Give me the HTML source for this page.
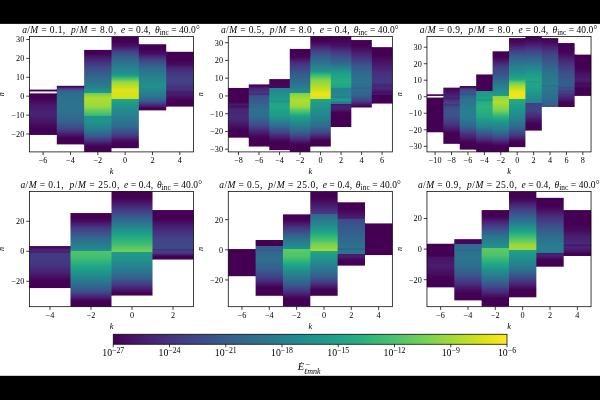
<!DOCTYPE html>
<html><head><meta charset="utf-8"><title>Flux modes</title>
<style>html,body{margin:0;padding:0;background:#000;overflow:hidden}svg{display:block}</style>
</head><body>
<svg width="600" height="400" viewBox="0 0 600 400">
<defs>
<linearGradient id="g1" gradientUnits="userSpaceOnUse" x1="0" y1="93.37" x2="0" y2="134.94"><stop offset="0%" stop-color="#440154"/><stop offset="11.36%" stop-color="#440154"/><stop offset="21.14%" stop-color="#470d60"/><stop offset="30.91%" stop-color="#481a6c"/><stop offset="50%" stop-color="#482475"/><stop offset="69.09%" stop-color="#471365"/><stop offset="84.09%" stop-color="#440154"/><stop offset="100%" stop-color="#440154"/></linearGradient>
<linearGradient id="g2" gradientUnits="userSpaceOnUse" x1="0" y1="85.81" x2="0" y2="144.4"><stop offset="0%" stop-color="#440154"/><stop offset="2.26%" stop-color="#460b5e"/><stop offset="2.9%" stop-color="#481a6c"/><stop offset="3.55%" stop-color="#482878"/><stop offset="4.19%" stop-color="#463480"/><stop offset="5.48%" stop-color="#424186"/><stop offset="6.77%" stop-color="#3c4f8a"/><stop offset="8.06%" stop-color="#375b8d"/><stop offset="9.35%" stop-color="#31678e"/><stop offset="24.19%" stop-color="#2c738e"/><stop offset="41.61%" stop-color="#2c738e"/><stop offset="58.71%" stop-color="#31678e"/><stop offset="63.33%" stop-color="#355e8d"/><stop offset="67.96%" stop-color="#3a538b"/><stop offset="72.58%" stop-color="#3e4989"/><stop offset="75.81%" stop-color="#443b84"/><stop offset="79.03%" stop-color="#472d7b"/><stop offset="82.26%" stop-color="#481d6f"/><stop offset="85.48%" stop-color="#471063"/><stop offset="88.71%" stop-color="#440154"/><stop offset="100%" stop-color="#440154"/></linearGradient>
<linearGradient id="g3" gradientUnits="userSpaceOnUse" x1="0" y1="49.9" x2="0" y2="151.95"><stop offset="0%" stop-color="#440154"/><stop offset="3.7%" stop-color="#440154"/><stop offset="6.02%" stop-color="#471063"/><stop offset="8.33%" stop-color="#481d6f"/><stop offset="10.93%" stop-color="#472a7a"/><stop offset="13.52%" stop-color="#453781"/><stop offset="16.11%" stop-color="#414487"/><stop offset="20%" stop-color="#3b528b"/><stop offset="23.89%" stop-color="#355f8d"/><stop offset="27.78%" stop-color="#306a8e"/><stop offset="31.67%" stop-color="#2c738e"/><stop offset="35.56%" stop-color="#287d8e"/><stop offset="37.69%" stop-color="#24868e"/><stop offset="39.81%" stop-color="#21918c"/><stop offset="41.2%" stop-color="#1f968b"/><stop offset="42.59%" stop-color="#1e9c89"/><stop offset="42.59%" stop-color="#6ece58"/><stop offset="44.91%" stop-color="#8ed645"/><stop offset="47.22%" stop-color="#b0dd2f"/><stop offset="55.19%" stop-color="#9bd93c"/><stop offset="57.13%" stop-color="#84d44b"/><stop offset="59.07%" stop-color="#6ccd5a"/><stop offset="61.02%" stop-color="#56c667"/><stop offset="62.96%" stop-color="#44bf70"/><stop offset="64.81%" stop-color="#32b67a"/><stop offset="64.81%" stop-color="#21918c"/><stop offset="70.74%" stop-color="#1f958b"/><stop offset="73.4%" stop-color="#228b8d"/><stop offset="76.05%" stop-color="#26828e"/><stop offset="78.7%" stop-color="#2a788e"/><stop offset="80.56%" stop-color="#2e6f8e"/><stop offset="82.41%" stop-color="#32648e"/><stop offset="84.26%" stop-color="#375a8c"/><stop offset="85.79%" stop-color="#3d4e8a"/><stop offset="87.31%" stop-color="#424086"/><stop offset="88.84%" stop-color="#46337f"/><stop offset="90.37%" stop-color="#482475"/><stop offset="92.31%" stop-color="#471365"/><stop offset="94.26%" stop-color="#440154"/><stop offset="100%" stop-color="#440154"/></linearGradient>
<linearGradient id="g4" gradientUnits="userSpaceOnUse" x1="0" y1="36.67" x2="0" y2="148.18"><stop offset="0%" stop-color="#440154"/><stop offset="4.24%" stop-color="#440154"/><stop offset="8.64%" stop-color="#471365"/><stop offset="10.42%" stop-color="#482475"/><stop offset="12.2%" stop-color="#463480"/><stop offset="13.98%" stop-color="#414487"/><stop offset="15.76%" stop-color="#3b528b"/><stop offset="18.01%" stop-color="#365c8d"/><stop offset="20.25%" stop-color="#31668e"/><stop offset="22.5%" stop-color="#2e6f8e"/><stop offset="24.75%" stop-color="#2a788e"/><stop offset="29.24%" stop-color="#25848e"/><stop offset="33.73%" stop-color="#21918c"/><stop offset="34.41%" stop-color="#1f998a"/><stop offset="35.08%" stop-color="#1fa287"/><stop offset="35.76%" stop-color="#25ab82"/><stop offset="36.44%" stop-color="#2fb47c"/><stop offset="37.54%" stop-color="#44bf70"/><stop offset="38.64%" stop-color="#5ec962"/><stop offset="39.75%" stop-color="#7ad151"/><stop offset="40.85%" stop-color="#9bd93c"/><stop offset="44.41%" stop-color="#bddf26"/><stop offset="47.97%" stop-color="#dfe318"/><stop offset="55.08%" stop-color="#d2e21b"/><stop offset="55.93%" stop-color="#cae11f"/><stop offset="55.93%" stop-color="#22a884"/><stop offset="59.15%" stop-color="#1e9c89"/><stop offset="62.37%" stop-color="#21918c"/><stop offset="66.78%" stop-color="#23888e"/><stop offset="71.19%" stop-color="#27808e"/><stop offset="75.68%" stop-color="#2b758e"/><stop offset="80.17%" stop-color="#2f6c8e"/><stop offset="82.54%" stop-color="#355f8d"/><stop offset="84.92%" stop-color="#3b528b"/><stop offset="87.29%" stop-color="#414487"/><stop offset="88.64%" stop-color="#453882"/><stop offset="90%" stop-color="#472d7b"/><stop offset="91.36%" stop-color="#482071"/><stop offset="92.71%" stop-color="#471365"/><stop offset="95.42%" stop-color="#440154"/><stop offset="100%" stop-color="#440154"/></linearGradient>
<linearGradient id="g5" gradientUnits="userSpaceOnUse" x1="0" y1="44.23" x2="0" y2="110.38"><stop offset="0%" stop-color="#440154"/><stop offset="8.57%" stop-color="#440154"/><stop offset="15.14%" stop-color="#471365"/><stop offset="17.43%" stop-color="#482071"/><stop offset="19.71%" stop-color="#472d7b"/><stop offset="22%" stop-color="#453882"/><stop offset="24.29%" stop-color="#414487"/><stop offset="28.29%" stop-color="#3b528b"/><stop offset="32.29%" stop-color="#355f8d"/><stop offset="36.29%" stop-color="#2f6c8e"/><stop offset="41.33%" stop-color="#2b748e"/><stop offset="46.38%" stop-color="#287c8e"/><stop offset="51.43%" stop-color="#25848e"/><stop offset="63.43%" stop-color="#21918c"/><stop offset="69.57%" stop-color="#24868e"/><stop offset="75.71%" stop-color="#287d8e"/><stop offset="80%" stop-color="#2d718e"/><stop offset="84.29%" stop-color="#32648e"/><stop offset="85.86%" stop-color="#375a8c"/><stop offset="87.43%" stop-color="#3d4e8a"/><stop offset="89%" stop-color="#424186"/><stop offset="90.57%" stop-color="#463480"/><stop offset="92.57%" stop-color="#482475"/><stop offset="94.57%" stop-color="#471365"/><stop offset="96.57%" stop-color="#440154"/><stop offset="100%" stop-color="#440154"/></linearGradient>
<linearGradient id="g6" gradientUnits="userSpaceOnUse" x1="0" y1="51.79" x2="0" y2="106.59"><stop offset="0%" stop-color="#440154"/><stop offset="15.52%" stop-color="#440154"/><stop offset="22.41%" stop-color="#460b5e"/><stop offset="27.36%" stop-color="#481a6c"/><stop offset="32.3%" stop-color="#482878"/><stop offset="37.24%" stop-color="#463480"/><stop offset="44.48%" stop-color="#443b84"/><stop offset="51.72%" stop-color="#414487"/><stop offset="62.76%" stop-color="#443a83"/><stop offset="70.17%" stop-color="#472d7b"/><stop offset="77.59%" stop-color="#481d6f"/><stop offset="82.76%" stop-color="#471063"/><stop offset="87.93%" stop-color="#440154"/><stop offset="100%" stop-color="#440154"/></linearGradient>
<linearGradient id="g7" gradientUnits="userSpaceOnUse" x1="0" y1="87.96" x2="0" y2="137.66"><stop offset="0%" stop-color="#440154"/><stop offset="28.57%" stop-color="#440154"/><stop offset="30.54%" stop-color="#460b5e"/><stop offset="32.5%" stop-color="#481769"/><stop offset="44.64%" stop-color="#482475"/><stop offset="60.71%" stop-color="#472a7a"/><stop offset="66.79%" stop-color="#482173"/><stop offset="72.86%" stop-color="#481769"/><stop offset="78.93%" stop-color="#460b5e"/><stop offset="85%" stop-color="#440154"/><stop offset="100%" stop-color="#440154"/></linearGradient>
<linearGradient id="g8" gradientUnits="userSpaceOnUse" x1="0" y1="84.41" x2="0" y2="146.54"><stop offset="0%" stop-color="#440154"/><stop offset="2.86%" stop-color="#46085c"/><stop offset="4.43%" stop-color="#481769"/><stop offset="6%" stop-color="#482475"/><stop offset="12.57%" stop-color="#463480"/><stop offset="15.71%" stop-color="#414487"/><stop offset="18.86%" stop-color="#3b528b"/><stop offset="28.57%" stop-color="#355f8d"/><stop offset="35%" stop-color="#31688e"/><stop offset="41.43%" stop-color="#2d718e"/><stop offset="51.14%" stop-color="#2f6c8e"/><stop offset="57.57%" stop-color="#355f8d"/><stop offset="64%" stop-color="#3b528b"/><stop offset="67.24%" stop-color="#404588"/><stop offset="70.48%" stop-color="#453882"/><stop offset="73.71%" stop-color="#472a7a"/><stop offset="78.43%" stop-color="#481a6c"/><stop offset="83.14%" stop-color="#46085c"/><stop offset="87.14%" stop-color="#440154"/><stop offset="100%" stop-color="#440154"/></linearGradient>
<linearGradient id="g9" gradientUnits="userSpaceOnUse" x1="0" y1="79.09" x2="0" y2="150.09"><stop offset="0%" stop-color="#440154"/><stop offset="12.5%" stop-color="#46085c"/><stop offset="12.5%" stop-color="#26828e"/><stop offset="18.12%" stop-color="#228b8d"/><stop offset="23.75%" stop-color="#1f958b"/><stop offset="31%" stop-color="#1f9f88"/><stop offset="38.25%" stop-color="#22a884"/><stop offset="45.25%" stop-color="#1fa188"/><stop offset="52.25%" stop-color="#1f9a8a"/><stop offset="55.75%" stop-color="#218f8d"/><stop offset="59.25%" stop-color="#26828e"/><stop offset="62.75%" stop-color="#2a778e"/><stop offset="66.25%" stop-color="#2f6c8e"/><stop offset="69.06%" stop-color="#355f8d"/><stop offset="71.88%" stop-color="#3b528b"/><stop offset="74.69%" stop-color="#414487"/><stop offset="77.5%" stop-color="#463480"/><stop offset="80.33%" stop-color="#482677"/><stop offset="83.17%" stop-color="#48186a"/><stop offset="86%" stop-color="#46085c"/><stop offset="88.75%" stop-color="#440154"/><stop offset="100%" stop-color="#440154"/></linearGradient>
<linearGradient id="g10" gradientUnits="userSpaceOnUse" x1="0" y1="48.91" x2="0" y2="151.86"><stop offset="0%" stop-color="#440154"/><stop offset="6.03%" stop-color="#440154"/><stop offset="8.97%" stop-color="#460b5e"/><stop offset="10.92%" stop-color="#481a6c"/><stop offset="12.87%" stop-color="#482878"/><stop offset="14.83%" stop-color="#463480"/><stop offset="18.05%" stop-color="#424186"/><stop offset="21.26%" stop-color="#3d4e8a"/><stop offset="24.48%" stop-color="#375a8c"/><stop offset="29.4%" stop-color="#31678e"/><stop offset="34.31%" stop-color="#2c738e"/><stop offset="37.67%" stop-color="#277e8e"/><stop offset="41.03%" stop-color="#23898e"/><stop offset="43.1%" stop-color="#21918c"/><stop offset="43.1%" stop-color="#7ad151"/><stop offset="46.47%" stop-color="#95d840"/><stop offset="49.83%" stop-color="#b0dd2f"/><stop offset="55.69%" stop-color="#9bd93c"/><stop offset="57.11%" stop-color="#84d44b"/><stop offset="58.53%" stop-color="#6ccd5a"/><stop offset="59.96%" stop-color="#56c667"/><stop offset="61.38%" stop-color="#44bf70"/><stop offset="62.7%" stop-color="#32b67a"/><stop offset="64.02%" stop-color="#26ad81"/><stop offset="65.34%" stop-color="#20a386"/><stop offset="68.28%" stop-color="#1f978b"/><stop offset="71.21%" stop-color="#228b8d"/><stop offset="73.79%" stop-color="#26818e"/><stop offset="76.38%" stop-color="#2a768e"/><stop offset="78.97%" stop-color="#2f6c8e"/><stop offset="80.86%" stop-color="#355f8d"/><stop offset="82.76%" stop-color="#3b528b"/><stop offset="84.66%" stop-color="#414487"/><stop offset="86.12%" stop-color="#453882"/><stop offset="87.59%" stop-color="#472d7b"/><stop offset="89.05%" stop-color="#482071"/><stop offset="90.52%" stop-color="#471365"/><stop offset="93.1%" stop-color="#440154"/><stop offset="100%" stop-color="#440154"/></linearGradient>
<linearGradient id="g11" gradientUnits="userSpaceOnUse" x1="0" y1="36.49" x2="0" y2="146.54"><stop offset="0%" stop-color="#440154"/><stop offset="4.03%" stop-color="#440154"/><stop offset="7.26%" stop-color="#471365"/><stop offset="9.48%" stop-color="#482475"/><stop offset="11.69%" stop-color="#463480"/><stop offset="13.91%" stop-color="#414487"/><stop offset="16.13%" stop-color="#3b528b"/><stop offset="18.39%" stop-color="#365c8d"/><stop offset="20.65%" stop-color="#31668e"/><stop offset="22.9%" stop-color="#2e6f8e"/><stop offset="25.16%" stop-color="#2a788e"/><stop offset="28.31%" stop-color="#25848e"/><stop offset="31.45%" stop-color="#21918c"/><stop offset="32.14%" stop-color="#1f998a"/><stop offset="32.82%" stop-color="#1fa287"/><stop offset="33.51%" stop-color="#25ab82"/><stop offset="34.19%" stop-color="#2fb47c"/><stop offset="35.56%" stop-color="#40bd72"/><stop offset="36.94%" stop-color="#56c667"/><stop offset="38.31%" stop-color="#6ece58"/><stop offset="39.68%" stop-color="#86d549"/><stop offset="43.31%" stop-color="#a2da37"/><stop offset="46.94%" stop-color="#bddf26"/><stop offset="49.68%" stop-color="#d5e21a"/><stop offset="52.42%" stop-color="#ece51b"/><stop offset="56.45%" stop-color="#d8e219"/><stop offset="56.45%" stop-color="#22a884"/><stop offset="59.92%" stop-color="#1f9f88"/><stop offset="63.39%" stop-color="#1f958b"/><stop offset="67.9%" stop-color="#228d8d"/><stop offset="72.42%" stop-color="#25848e"/><stop offset="75.43%" stop-color="#287c8e"/><stop offset="78.44%" stop-color="#2b748e"/><stop offset="81.45%" stop-color="#2f6c8e"/><stop offset="83.28%" stop-color="#34618d"/><stop offset="85.11%" stop-color="#39558c"/><stop offset="86.94%" stop-color="#3e4989"/><stop offset="88.31%" stop-color="#433d84"/><stop offset="89.68%" stop-color="#472f7d"/><stop offset="91.05%" stop-color="#482173"/><stop offset="92.42%" stop-color="#471365"/><stop offset="94.35%" stop-color="#440154"/><stop offset="100%" stop-color="#440154"/></linearGradient>
<linearGradient id="g12" gradientUnits="userSpaceOnUse" x1="0" y1="36.49" x2="0" y2="127.01"><stop offset="0%" stop-color="#440154"/><stop offset="6.86%" stop-color="#46085c"/><stop offset="10.78%" stop-color="#471365"/><stop offset="12.99%" stop-color="#482071"/><stop offset="15.2%" stop-color="#472d7b"/><stop offset="17.4%" stop-color="#453882"/><stop offset="19.61%" stop-color="#414487"/><stop offset="23.27%" stop-color="#3b528b"/><stop offset="26.93%" stop-color="#355f8d"/><stop offset="30.59%" stop-color="#2f6c8e"/><stop offset="32.25%" stop-color="#2b758e"/><stop offset="33.92%" stop-color="#277e8e"/><stop offset="35.59%" stop-color="#24878e"/><stop offset="37.25%" stop-color="#21918c"/><stop offset="39.41%" stop-color="#1f988b"/><stop offset="41.57%" stop-color="#1fa188"/><stop offset="45.98%" stop-color="#22a785"/><stop offset="50.39%" stop-color="#26ad81"/><stop offset="55.88%" stop-color="#20a386"/><stop offset="56.86%" stop-color="#1f9f88"/><stop offset="56.86%" stop-color="#25848e"/><stop offset="61.57%" stop-color="#25848e"/><stop offset="65.88%" stop-color="#228b8d"/><stop offset="68.24%" stop-color="#20938c"/><stop offset="70.59%" stop-color="#1e9c89"/><stop offset="71.24%" stop-color="#20928c"/><stop offset="71.9%" stop-color="#24878e"/><stop offset="72.55%" stop-color="#287d8e"/><stop offset="74.51%" stop-color="#2a788e"/><stop offset="74.51%" stop-color="#471365"/><stop offset="77.45%" stop-color="#482475"/><stop offset="80.39%" stop-color="#481d6f"/><stop offset="82.35%" stop-color="#471063"/><stop offset="84.31%" stop-color="#440154"/><stop offset="100%" stop-color="#440154"/></linearGradient>
<linearGradient id="g13" gradientUnits="userSpaceOnUse" x1="0" y1="40.04" x2="0" y2="107.49"><stop offset="0%" stop-color="#440154"/><stop offset="9.21%" stop-color="#440154"/><stop offset="15%" stop-color="#471365"/><stop offset="20.92%" stop-color="#482475"/><stop offset="26.84%" stop-color="#463480"/><stop offset="30.79%" stop-color="#424086"/><stop offset="34.74%" stop-color="#3e4c8a"/><stop offset="38.68%" stop-color="#38588c"/><stop offset="44.61%" stop-color="#33628d"/><stop offset="50.53%" stop-color="#2f6c8e"/><stop offset="62.37%" stop-color="#2c738e"/><stop offset="69.74%" stop-color="#2e6f8e"/><stop offset="77.63%" stop-color="#31678e"/><stop offset="82.89%" stop-color="#355f8d"/><stop offset="86.05%" stop-color="#3b528b"/><stop offset="89.21%" stop-color="#414487"/><stop offset="91.14%" stop-color="#453781"/><stop offset="93.07%" stop-color="#472a7a"/><stop offset="95%" stop-color="#481d6f"/><stop offset="96.58%" stop-color="#471063"/><stop offset="98.16%" stop-color="#440154"/><stop offset="100%" stop-color="#440154"/></linearGradient>
<linearGradient id="g14" gradientUnits="userSpaceOnUse" x1="0" y1="47.14" x2="0" y2="103.58"><stop offset="0%" stop-color="#440154"/><stop offset="14.15%" stop-color="#440154"/><stop offset="19.5%" stop-color="#46085c"/><stop offset="26.57%" stop-color="#471365"/><stop offset="33.65%" stop-color="#481d6f"/><stop offset="40.72%" stop-color="#482878"/><stop offset="47.8%" stop-color="#46307e"/><stop offset="61.95%" stop-color="#443a83"/><stop offset="64.78%" stop-color="#472f7d"/><stop offset="67.61%" stop-color="#482475"/><stop offset="72.64%" stop-color="#472a7a"/><stop offset="76.26%" stop-color="#481d6f"/><stop offset="79.87%" stop-color="#471063"/><stop offset="85.53%" stop-color="#440154"/><stop offset="100%" stop-color="#440154"/></linearGradient>
<linearGradient id="g15" gradientUnits="userSpaceOnUse" x1="0" y1="87.66" x2="0" y2="143.83"><stop offset="0%" stop-color="#440154"/><stop offset="8.24%" stop-color="#471365"/><stop offset="15.29%" stop-color="#482475"/><stop offset="20.59%" stop-color="#46307e"/><stop offset="25.88%" stop-color="#433e85"/><stop offset="33.09%" stop-color="#3f4889"/><stop offset="40.29%" stop-color="#3b528b"/><stop offset="50.88%" stop-color="#3b528b"/><stop offset="58.09%" stop-color="#414487"/><stop offset="65.29%" stop-color="#463480"/><stop offset="70.59%" stop-color="#482475"/><stop offset="75.88%" stop-color="#471365"/><stop offset="80.88%" stop-color="#440154"/><stop offset="100%" stop-color="#440154"/></linearGradient>
<linearGradient id="g16" gradientUnits="userSpaceOnUse" x1="0" y1="86.01" x2="0" y2="149.61"><stop offset="0%" stop-color="#440154"/><stop offset="2.6%" stop-color="#471365"/><stop offset="3.25%" stop-color="#482071"/><stop offset="3.9%" stop-color="#472d7b"/><stop offset="4.55%" stop-color="#453882"/><stop offset="5.19%" stop-color="#414487"/><stop offset="9.09%" stop-color="#3b528b"/><stop offset="12.99%" stop-color="#355f8d"/><stop offset="17.66%" stop-color="#306a8e"/><stop offset="22.34%" stop-color="#2c738e"/><stop offset="38.18%" stop-color="#27808e"/><stop offset="50.65%" stop-color="#287d8e"/><stop offset="57.01%" stop-color="#2d718e"/><stop offset="63.38%" stop-color="#32648e"/><stop offset="66.49%" stop-color="#38598c"/><stop offset="69.61%" stop-color="#3e4c8a"/><stop offset="72.73%" stop-color="#423f85"/><stop offset="75.84%" stop-color="#46307e"/><stop offset="79.05%" stop-color="#482576"/><stop offset="82.25%" stop-color="#481a6c"/><stop offset="85.45%" stop-color="#460b5e"/><stop offset="89.61%" stop-color="#440154"/><stop offset="100%" stop-color="#440154"/></linearGradient>
<linearGradient id="g17" gradientUnits="userSpaceOnUse" x1="0" y1="74.45" x2="0" y2="152.09"><stop offset="0%" stop-color="#440154"/><stop offset="21.28%" stop-color="#440154"/><stop offset="21.28%" stop-color="#1f958b"/><stop offset="25.96%" stop-color="#1e9c89"/><stop offset="30.64%" stop-color="#20a386"/><stop offset="35.85%" stop-color="#25ac82"/><stop offset="41.06%" stop-color="#2fb47c"/><stop offset="47.45%" stop-color="#28ae80"/><stop offset="53.83%" stop-color="#22a884"/><stop offset="58.16%" stop-color="#1e9c89"/><stop offset="62.48%" stop-color="#21918c"/><stop offset="66.81%" stop-color="#25848e"/><stop offset="69.36%" stop-color="#2a788e"/><stop offset="71.91%" stop-color="#2f6c8e"/><stop offset="74.47%" stop-color="#355f8d"/><stop offset="77.02%" stop-color="#3b528b"/><stop offset="79.57%" stop-color="#414487"/><stop offset="81.54%" stop-color="#453882"/><stop offset="83.51%" stop-color="#472d7b"/><stop offset="85.48%" stop-color="#482071"/><stop offset="87.45%" stop-color="#471365"/><stop offset="90.43%" stop-color="#440154"/><stop offset="100%" stop-color="#440154"/></linearGradient>
<linearGradient id="g18" gradientUnits="userSpaceOnUse" x1="0" y1="51.32" x2="0" y2="152.09"><stop offset="0%" stop-color="#440154"/><stop offset="5.74%" stop-color="#440154"/><stop offset="8.85%" stop-color="#471365"/><stop offset="10.82%" stop-color="#482071"/><stop offset="12.79%" stop-color="#472d7b"/><stop offset="14.75%" stop-color="#453882"/><stop offset="16.72%" stop-color="#414487"/><stop offset="22.79%" stop-color="#3b528b"/><stop offset="25.74%" stop-color="#355f8d"/><stop offset="28.03%" stop-color="#31688e"/><stop offset="30.33%" stop-color="#2d708e"/><stop offset="32.62%" stop-color="#2a788e"/><stop offset="36.15%" stop-color="#25848e"/><stop offset="39.67%" stop-color="#21918c"/><stop offset="41.97%" stop-color="#1f978b"/><stop offset="44.26%" stop-color="#1f9f88"/><stop offset="44.26%" stop-color="#86d549"/><stop offset="47.38%" stop-color="#9bd93c"/><stop offset="50.49%" stop-color="#b0dd2f"/><stop offset="54.51%" stop-color="#95d840"/><stop offset="58.52%" stop-color="#7ad151"/><stop offset="60%" stop-color="#65cb5e"/><stop offset="61.48%" stop-color="#50c46a"/><stop offset="62.95%" stop-color="#3fbc73"/><stop offset="64.43%" stop-color="#2fb47c"/><stop offset="66.45%" stop-color="#24aa83"/><stop offset="68.47%" stop-color="#1fa088"/><stop offset="70.49%" stop-color="#1f958b"/><stop offset="73.11%" stop-color="#228b8d"/><stop offset="75.74%" stop-color="#26828e"/><stop offset="78.36%" stop-color="#2a788e"/><stop offset="79.84%" stop-color="#2e6f8e"/><stop offset="81.31%" stop-color="#31668e"/><stop offset="82.79%" stop-color="#365c8d"/><stop offset="84.26%" stop-color="#3b528b"/><stop offset="85.78%" stop-color="#404688"/><stop offset="87.3%" stop-color="#443983"/><stop offset="88.81%" stop-color="#472c7a"/><stop offset="90.33%" stop-color="#481d6f"/><stop offset="91.89%" stop-color="#471063"/><stop offset="93.44%" stop-color="#440154"/><stop offset="100%" stop-color="#440154"/></linearGradient>
<linearGradient id="g19" gradientUnits="userSpaceOnUse" x1="0" y1="38.1" x2="0" y2="147.14"><stop offset="0%" stop-color="#440154"/><stop offset="3.79%" stop-color="#46085c"/><stop offset="5.61%" stop-color="#471365"/><stop offset="7.42%" stop-color="#481d6f"/><stop offset="9.24%" stop-color="#472c7a"/><stop offset="11.06%" stop-color="#443983"/><stop offset="12.88%" stop-color="#404688"/><stop offset="14.7%" stop-color="#3b528b"/><stop offset="17.01%" stop-color="#365c8d"/><stop offset="19.32%" stop-color="#31668e"/><stop offset="21.63%" stop-color="#2e6f8e"/><stop offset="23.94%" stop-color="#2a788e"/><stop offset="27.02%" stop-color="#26828e"/><stop offset="30.1%" stop-color="#228b8d"/><stop offset="33.18%" stop-color="#1f958b"/><stop offset="35.45%" stop-color="#1f9f88"/><stop offset="37.73%" stop-color="#22a884"/><stop offset="38.37%" stop-color="#2cb17e"/><stop offset="39.02%" stop-color="#38b977"/><stop offset="39.66%" stop-color="#4ac16d"/><stop offset="40.3%" stop-color="#5ec962"/><stop offset="41.52%" stop-color="#75d054"/><stop offset="42.73%" stop-color="#8ed645"/><stop offset="43.94%" stop-color="#a8db34"/><stop offset="46.67%" stop-color="#cae11f"/><stop offset="49.39%" stop-color="#ece51b"/><stop offset="53.33%" stop-color="#f1e51d"/><stop offset="56.06%" stop-color="#dfe318"/><stop offset="56.06%" stop-color="#26ad81"/><stop offset="59.32%" stop-color="#20a486"/><stop offset="62.58%" stop-color="#1e9c89"/><stop offset="67.12%" stop-color="#20928c"/><stop offset="71.67%" stop-color="#23898e"/><stop offset="74.75%" stop-color="#27808e"/><stop offset="77.83%" stop-color="#2b758e"/><stop offset="80.91%" stop-color="#2f6c8e"/><stop offset="82.73%" stop-color="#34618d"/><stop offset="84.55%" stop-color="#39558c"/><stop offset="86.36%" stop-color="#3e4989"/><stop offset="88.18%" stop-color="#433e85"/><stop offset="90.05%" stop-color="#472e7c"/><stop offset="91.92%" stop-color="#481d6f"/><stop offset="93.79%" stop-color="#460b5e"/><stop offset="95.45%" stop-color="#440154"/><stop offset="100%" stop-color="#440154"/></linearGradient>
<linearGradient id="g20" gradientUnits="userSpaceOnUse" x1="0" y1="36.45" x2="0" y2="130.62"><stop offset="0%" stop-color="#440154"/><stop offset="4.39%" stop-color="#46085c"/><stop offset="8.25%" stop-color="#481a6c"/><stop offset="10.88%" stop-color="#472a7a"/><stop offset="13.51%" stop-color="#443983"/><stop offset="16.14%" stop-color="#3f4788"/><stop offset="18.77%" stop-color="#3a548c"/><stop offset="22.34%" stop-color="#34618d"/><stop offset="25.91%" stop-color="#2e6d8e"/><stop offset="29.47%" stop-color="#2a788e"/><stop offset="32.15%" stop-color="#26828e"/><stop offset="34.82%" stop-color="#238a8d"/><stop offset="37.5%" stop-color="#20938c"/><stop offset="40.18%" stop-color="#1e9c89"/><stop offset="47.54%" stop-color="#22a884"/><stop offset="54.91%" stop-color="#1fa188"/><stop offset="61.4%" stop-color="#1f958b"/><stop offset="64.56%" stop-color="#218e8d"/><stop offset="67.72%" stop-color="#24868e"/><stop offset="70.18%" stop-color="#26828e"/><stop offset="70.18%" stop-color="#433e85"/><stop offset="78.42%" stop-color="#414487"/><stop offset="81.58%" stop-color="#453781"/><stop offset="84.74%" stop-color="#472a7a"/><stop offset="87.98%" stop-color="#481a6c"/><stop offset="91.23%" stop-color="#46085c"/><stop offset="93.86%" stop-color="#440154"/><stop offset="100%" stop-color="#440154"/></linearGradient>
<linearGradient id="g21" gradientUnits="userSpaceOnUse" x1="0" y1="38.1" x2="0" y2="106.99"><stop offset="0%" stop-color="#440154"/><stop offset="6%" stop-color="#46085c"/><stop offset="8.87%" stop-color="#471365"/><stop offset="11.75%" stop-color="#481d6f"/><stop offset="15.59%" stop-color="#472a7a"/><stop offset="19.42%" stop-color="#453781"/><stop offset="23.26%" stop-color="#414487"/><stop offset="30.58%" stop-color="#3b528b"/><stop offset="37.89%" stop-color="#355f8d"/><stop offset="45.2%" stop-color="#306a8e"/><stop offset="52.52%" stop-color="#2c738e"/><stop offset="66.91%" stop-color="#287d8e"/><stop offset="78.66%" stop-color="#2c738e"/><stop offset="87.29%" stop-color="#2f6c8e"/><stop offset="95.92%" stop-color="#355f8d"/><stop offset="100%" stop-color="#375a8c"/></linearGradient>
<linearGradient id="g22" gradientUnits="userSpaceOnUse" x1="0" y1="43.06" x2="0" y2="106.99"><stop offset="0%" stop-color="#440154"/><stop offset="11.63%" stop-color="#440154"/><stop offset="17.31%" stop-color="#460b5e"/><stop offset="22.57%" stop-color="#481a6c"/><stop offset="27.82%" stop-color="#482878"/><stop offset="33.07%" stop-color="#463480"/><stop offset="40.96%" stop-color="#414487"/><stop offset="48.84%" stop-color="#3b528b"/><stop offset="64.34%" stop-color="#355f8d"/><stop offset="72.35%" stop-color="#3b528b"/><stop offset="76.23%" stop-color="#414487"/><stop offset="80.1%" stop-color="#463480"/><stop offset="84.75%" stop-color="#482475"/><stop offset="89.41%" stop-color="#471365"/><stop offset="93.02%" stop-color="#440154"/><stop offset="100%" stop-color="#440154"/></linearGradient>
<linearGradient id="g23" gradientUnits="userSpaceOnUse" x1="0" y1="54.62" x2="0" y2="95.92"><stop offset="0%" stop-color="#440154"/><stop offset="34%" stop-color="#440154"/><stop offset="47.6%" stop-color="#471365"/><stop offset="62%" stop-color="#481d6f"/><stop offset="76.4%" stop-color="#460b5e"/><stop offset="82%" stop-color="#440154"/><stop offset="100%" stop-color="#440154"/></linearGradient>
<linearGradient id="g24" gradientUnits="userSpaceOnUse" x1="0" y1="246.05" x2="0" y2="288.05"><stop offset="0%" stop-color="#440154"/><stop offset="3.57%" stop-color="#460b5e"/><stop offset="6.61%" stop-color="#48186a"/><stop offset="9.64%" stop-color="#482475"/><stop offset="14.29%" stop-color="#472f7d"/><stop offset="18.93%" stop-color="#443a83"/><stop offset="40.36%" stop-color="#453781"/><stop offset="51.07%" stop-color="#472d7b"/><stop offset="61.79%" stop-color="#482173"/><stop offset="68.93%" stop-color="#481769"/><stop offset="76.07%" stop-color="#460b5e"/><stop offset="83.93%" stop-color="#440154"/><stop offset="100%" stop-color="#440154"/></linearGradient>
<linearGradient id="g25" gradientUnits="userSpaceOnUse" x1="0" y1="213.05" x2="0" y2="306.8"><stop offset="0%" stop-color="#440154"/><stop offset="5.6%" stop-color="#440154"/><stop offset="8.48%" stop-color="#460b5e"/><stop offset="10.88%" stop-color="#481b6d"/><stop offset="13.28%" stop-color="#482979"/><stop offset="15.68%" stop-color="#453781"/><stop offset="18.08%" stop-color="#414487"/><stop offset="21.28%" stop-color="#3b528b"/><stop offset="24.48%" stop-color="#355f8d"/><stop offset="27.68%" stop-color="#2f6c8e"/><stop offset="30.88%" stop-color="#2b748e"/><stop offset="34.08%" stop-color="#287c8e"/><stop offset="37.28%" stop-color="#25848e"/><stop offset="40%" stop-color="#21918c"/><stop offset="40.8%" stop-color="#21918c"/><stop offset="40.8%" stop-color="#4ec36b"/><stop offset="46.88%" stop-color="#44bf70"/><stop offset="51.68%" stop-color="#2fb47c"/><stop offset="56.48%" stop-color="#22a884"/><stop offset="60.8%" stop-color="#1e9c89"/><stop offset="64.32%" stop-color="#20928c"/><stop offset="67.84%" stop-color="#24878e"/><stop offset="71.36%" stop-color="#287d8e"/><stop offset="74.93%" stop-color="#2d718e"/><stop offset="78.51%" stop-color="#32648e"/><stop offset="82.08%" stop-color="#38588c"/><stop offset="84.2%" stop-color="#3e4989"/><stop offset="86.32%" stop-color="#443a83"/><stop offset="88.44%" stop-color="#472a7a"/><stop offset="90.56%" stop-color="#481a6c"/><stop offset="92.08%" stop-color="#470d60"/><stop offset="93.6%" stop-color="#440154"/><stop offset="100%" stop-color="#440154"/></linearGradient>
<linearGradient id="g26" gradientUnits="userSpaceOnUse" x1="0" y1="191.3" x2="0" y2="295.55"><stop offset="0%" stop-color="#440154"/><stop offset="5.76%" stop-color="#440154"/><stop offset="8.35%" stop-color="#46085c"/><stop offset="11.22%" stop-color="#48186a"/><stop offset="14.1%" stop-color="#482677"/><stop offset="16.98%" stop-color="#463480"/><stop offset="19.86%" stop-color="#414487"/><stop offset="22.73%" stop-color="#3b528b"/><stop offset="25.61%" stop-color="#355f8d"/><stop offset="27.77%" stop-color="#30698e"/><stop offset="29.93%" stop-color="#2c728e"/><stop offset="32.09%" stop-color="#297b8e"/><stop offset="34.24%" stop-color="#25848e"/><stop offset="37.12%" stop-color="#21918c"/><stop offset="40%" stop-color="#1e9c89"/><stop offset="42.88%" stop-color="#22a884"/><stop offset="47.19%" stop-color="#2fb47c"/><stop offset="51.51%" stop-color="#44bf70"/><stop offset="54.17%" stop-color="#58c765"/><stop offset="56.83%" stop-color="#6ece58"/><stop offset="58.27%" stop-color="#6ece58"/><stop offset="58.27%" stop-color="#1e9c89"/><stop offset="62.09%" stop-color="#1f968b"/><stop offset="65.9%" stop-color="#21918c"/><stop offset="70.22%" stop-color="#24868e"/><stop offset="74.53%" stop-color="#287d8e"/><stop offset="77.41%" stop-color="#2c738e"/><stop offset="80.29%" stop-color="#306a8e"/><stop offset="83.17%" stop-color="#355f8d"/><stop offset="85.32%" stop-color="#3a538b"/><stop offset="87.48%" stop-color="#404688"/><stop offset="89.64%" stop-color="#443983"/><stop offset="91.8%" stop-color="#472a7a"/><stop offset="94.1%" stop-color="#481a6c"/><stop offset="96.4%" stop-color="#46085c"/><stop offset="97.84%" stop-color="#440154"/><stop offset="100%" stop-color="#440154"/></linearGradient>
<linearGradient id="g27" gradientUnits="userSpaceOnUse" x1="0" y1="210.05" x2="0" y2="259.55"><stop offset="0%" stop-color="#440154"/><stop offset="16.67%" stop-color="#440154"/><stop offset="22.12%" stop-color="#46085c"/><stop offset="31.21%" stop-color="#481a6c"/><stop offset="40.3%" stop-color="#472a7a"/><stop offset="49.39%" stop-color="#453781"/><stop offset="58.48%" stop-color="#414487"/><stop offset="73.64%" stop-color="#3e4989"/><stop offset="84.85%" stop-color="#433e85"/><stop offset="87.88%" stop-color="#463480"/><stop offset="89.9%" stop-color="#482475"/><stop offset="91.92%" stop-color="#471365"/><stop offset="93.94%" stop-color="#440154"/><stop offset="100%" stop-color="#440154"/></linearGradient>
<linearGradient id="g28" gradientUnits="userSpaceOnUse" x1="0" y1="240" x2="0" y2="295.79"><stop offset="0%" stop-color="#440154"/><stop offset="10.81%" stop-color="#440154"/><stop offset="10.81%" stop-color="#375a8c"/><stop offset="19.73%" stop-color="#31678e"/><stop offset="35.68%" stop-color="#2e6f8e"/><stop offset="43.65%" stop-color="#31678e"/><stop offset="51.62%" stop-color="#355f8d"/><stop offset="57.03%" stop-color="#3a548c"/><stop offset="62.43%" stop-color="#3e4989"/><stop offset="67.84%" stop-color="#433e85"/><stop offset="71.8%" stop-color="#472f7d"/><stop offset="75.77%" stop-color="#482173"/><stop offset="79.73%" stop-color="#471365"/><stop offset="85.14%" stop-color="#440154"/><stop offset="100%" stop-color="#440154"/></linearGradient>
<linearGradient id="g29" gradientUnits="userSpaceOnUse" x1="0" y1="214.36" x2="0" y2="306.35"><stop offset="0%" stop-color="#440154"/><stop offset="4.92%" stop-color="#440154"/><stop offset="7.38%" stop-color="#46085c"/><stop offset="9.84%" stop-color="#48186a"/><stop offset="12.3%" stop-color="#482878"/><stop offset="14.75%" stop-color="#453581"/><stop offset="17.21%" stop-color="#414487"/><stop offset="19.63%" stop-color="#3c508b"/><stop offset="22.05%" stop-color="#365d8d"/><stop offset="24.47%" stop-color="#31688e"/><stop offset="26.89%" stop-color="#2c738e"/><stop offset="30.11%" stop-color="#287d8e"/><stop offset="33.33%" stop-color="#24868e"/><stop offset="36.56%" stop-color="#21918c"/><stop offset="37.7%" stop-color="#20928c"/><stop offset="37.7%" stop-color="#5ec962"/><stop offset="46.23%" stop-color="#4ec36b"/><stop offset="48.69%" stop-color="#3bbb75"/><stop offset="51.15%" stop-color="#2eb37c"/><stop offset="53.61%" stop-color="#24aa83"/><stop offset="56.07%" stop-color="#1fa188"/><stop offset="59.29%" stop-color="#1f958b"/><stop offset="62.51%" stop-color="#228b8d"/><stop offset="65.74%" stop-color="#27808e"/><stop offset="68.96%" stop-color="#2b748e"/><stop offset="72.19%" stop-color="#306a8e"/><stop offset="75.41%" stop-color="#355f8d"/><stop offset="77.83%" stop-color="#3a538b"/><stop offset="80.25%" stop-color="#404688"/><stop offset="82.66%" stop-color="#443983"/><stop offset="85.08%" stop-color="#472a7a"/><stop offset="87.62%" stop-color="#481a6c"/><stop offset="90.16%" stop-color="#46085c"/><stop offset="92.62%" stop-color="#440154"/><stop offset="100%" stop-color="#440154"/></linearGradient>
<linearGradient id="g30" gradientUnits="userSpaceOnUse" x1="0" y1="191.74" x2="0" y2="295.79"><stop offset="0%" stop-color="#440154"/><stop offset="4.35%" stop-color="#440154"/><stop offset="8.26%" stop-color="#46085c"/><stop offset="12.61%" stop-color="#481a6c"/><stop offset="16.96%" stop-color="#472a7a"/><stop offset="19.35%" stop-color="#463480"/><stop offset="21.74%" stop-color="#433e85"/><stop offset="21.74%" stop-color="#31678e"/><stop offset="25.51%" stop-color="#2c738e"/><stop offset="28.36%" stop-color="#287d8e"/><stop offset="31.21%" stop-color="#24868e"/><stop offset="34.06%" stop-color="#21918c"/><stop offset="36.2%" stop-color="#1f998a"/><stop offset="38.33%" stop-color="#1fa287"/><stop offset="40.47%" stop-color="#25ab82"/><stop offset="42.61%" stop-color="#2fb47c"/><stop offset="44.75%" stop-color="#3fbc73"/><stop offset="46.88%" stop-color="#50c46a"/><stop offset="49.02%" stop-color="#65cb5e"/><stop offset="51.16%" stop-color="#7ad151"/><stop offset="55.51%" stop-color="#9bd93c"/><stop offset="56.52%" stop-color="#9bd93c"/><stop offset="56.52%" stop-color="#22a884"/><stop offset="61.01%" stop-color="#1e9c89"/><stop offset="65.51%" stop-color="#21918c"/><stop offset="69.78%" stop-color="#25848e"/><stop offset="74.06%" stop-color="#2a788e"/><stop offset="76.96%" stop-color="#2e6e8e"/><stop offset="79.86%" stop-color="#33638d"/><stop offset="82.75%" stop-color="#38588c"/><stop offset="84.53%" stop-color="#3e4c8a"/><stop offset="86.3%" stop-color="#423f85"/><stop offset="88.08%" stop-color="#46327e"/><stop offset="89.86%" stop-color="#482475"/><stop offset="92.03%" stop-color="#471365"/><stop offset="94.2%" stop-color="#440154"/><stop offset="100%" stop-color="#440154"/></linearGradient>
<linearGradient id="g31" gradientUnits="userSpaceOnUse" x1="0" y1="202.3" x2="0" y2="265.63"><stop offset="0%" stop-color="#440154"/><stop offset="10.71%" stop-color="#440154"/><stop offset="15.71%" stop-color="#460b5e"/><stop offset="20.95%" stop-color="#48186a"/><stop offset="26.19%" stop-color="#482475"/><stop offset="26.19%" stop-color="#3e4989"/><stop offset="32.74%" stop-color="#3c508b"/><stop offset="39.29%" stop-color="#38588c"/><stop offset="53.33%" stop-color="#32648e"/><stop offset="67.38%" stop-color="#2e6f8e"/><stop offset="73.81%" stop-color="#2c738e"/><stop offset="80.95%" stop-color="#2c738e"/><stop offset="80.95%" stop-color="#481769"/><stop offset="85.71%" stop-color="#481d6f"/><stop offset="88.69%" stop-color="#471063"/><stop offset="91.67%" stop-color="#440154"/><stop offset="100%" stop-color="#440154"/></linearGradient>
<linearGradient id="g32" gradientUnits="userSpaceOnUse" x1="0" y1="243.75" x2="0" y2="287.35"><stop offset="0%" stop-color="#440154"/><stop offset="27.02%" stop-color="#440154"/><stop offset="31.58%" stop-color="#471365"/><stop offset="50.88%" stop-color="#481d6f"/><stop offset="71.58%" stop-color="#460b5e"/><stop offset="78.95%" stop-color="#440154"/><stop offset="100%" stop-color="#440154"/></linearGradient>
<linearGradient id="g33" gradientUnits="userSpaceOnUse" x1="0" y1="239.16" x2="0" y2="300.36"><stop offset="0%" stop-color="#440154"/><stop offset="7.5%" stop-color="#46085c"/><stop offset="7.5%" stop-color="#31678e"/><stop offset="17%" stop-color="#2d718e"/><stop offset="29.25%" stop-color="#2b758e"/><stop offset="43.75%" stop-color="#2e6f8e"/><stop offset="51.12%" stop-color="#33638d"/><stop offset="58.5%" stop-color="#38588c"/><stop offset="63.33%" stop-color="#3e4a89"/><stop offset="68.17%" stop-color="#433d84"/><stop offset="73%" stop-color="#472e7c"/><stop offset="78.38%" stop-color="#481d6f"/><stop offset="83.75%" stop-color="#460b5e"/><stop offset="88.75%" stop-color="#440154"/><stop offset="100%" stop-color="#440154"/></linearGradient>
<linearGradient id="g34" gradientUnits="userSpaceOnUse" x1="0" y1="210.08" x2="0" y2="306.48"><stop offset="0%" stop-color="#440154"/><stop offset="5.56%" stop-color="#440154"/><stop offset="8.57%" stop-color="#460b5e"/><stop offset="10.87%" stop-color="#481b6d"/><stop offset="13.17%" stop-color="#482979"/><stop offset="15.48%" stop-color="#453781"/><stop offset="17.78%" stop-color="#414487"/><stop offset="20.12%" stop-color="#3c508b"/><stop offset="22.46%" stop-color="#365d8d"/><stop offset="24.8%" stop-color="#31688e"/><stop offset="27.14%" stop-color="#2c738e"/><stop offset="30.74%" stop-color="#287d8e"/><stop offset="34.34%" stop-color="#24868e"/><stop offset="37.94%" stop-color="#21918c"/><stop offset="39.68%" stop-color="#1f958b"/><stop offset="39.68%" stop-color="#5ec962"/><stop offset="47.14%" stop-color="#4ec36b"/><stop offset="49.84%" stop-color="#3bbb75"/><stop offset="52.54%" stop-color="#2eb37c"/><stop offset="55.24%" stop-color="#24aa83"/><stop offset="57.94%" stop-color="#1fa188"/><stop offset="61.06%" stop-color="#1f958b"/><stop offset="64.18%" stop-color="#228b8d"/><stop offset="67.3%" stop-color="#27808e"/><stop offset="70.37%" stop-color="#2c738e"/><stop offset="73.44%" stop-color="#31678e"/><stop offset="76.51%" stop-color="#375a8c"/><stop offset="78.85%" stop-color="#3d4e8a"/><stop offset="81.19%" stop-color="#424086"/><stop offset="83.53%" stop-color="#46337f"/><stop offset="85.87%" stop-color="#482475"/><stop offset="88.57%" stop-color="#471365"/><stop offset="91.27%" stop-color="#440154"/><stop offset="100%" stop-color="#440154"/></linearGradient>
<linearGradient id="g35" gradientUnits="userSpaceOnUse" x1="0" y1="191.72" x2="0" y2="297.3"><stop offset="0%" stop-color="#440154"/><stop offset="5.07%" stop-color="#440154"/><stop offset="8.26%" stop-color="#460b5e"/><stop offset="11.06%" stop-color="#481d6f"/><stop offset="13.86%" stop-color="#472e7c"/><stop offset="16.67%" stop-color="#433e85"/><stop offset="18.8%" stop-color="#3f4889"/><stop offset="20.94%" stop-color="#3a538b"/><stop offset="23.08%" stop-color="#365d8d"/><stop offset="25.22%" stop-color="#31678e"/><stop offset="27.32%" stop-color="#2c718e"/><stop offset="29.42%" stop-color="#287c8e"/><stop offset="31.52%" stop-color="#24868e"/><stop offset="33.62%" stop-color="#21918c"/><stop offset="35.76%" stop-color="#1e9b8a"/><stop offset="37.9%" stop-color="#21a685"/><stop offset="40.04%" stop-color="#2ab07f"/><stop offset="42.17%" stop-color="#3bbb75"/><stop offset="44.28%" stop-color="#4ec36b"/><stop offset="46.38%" stop-color="#65cb5e"/><stop offset="48.48%" stop-color="#7fd34e"/><stop offset="50.58%" stop-color="#9bd93c"/><stop offset="55.07%" stop-color="#a2da37"/><stop offset="55.07%" stop-color="#20a386"/><stop offset="59.86%" stop-color="#1f978b"/><stop offset="64.64%" stop-color="#228b8d"/><stop offset="68.91%" stop-color="#27808e"/><stop offset="73.19%" stop-color="#2c738e"/><stop offset="75.29%" stop-color="#306a8e"/><stop offset="77.39%" stop-color="#355f8d"/><stop offset="79.49%" stop-color="#3a548c"/><stop offset="81.59%" stop-color="#3e4989"/><stop offset="83.73%" stop-color="#433d84"/><stop offset="85.87%" stop-color="#472f7d"/><stop offset="88.01%" stop-color="#482173"/><stop offset="90.14%" stop-color="#471365"/><stop offset="92.75%" stop-color="#440154"/><stop offset="100%" stop-color="#440154"/></linearGradient>
<linearGradient id="g36" gradientUnits="userSpaceOnUse" x1="0" y1="197.84" x2="0" y2="266.69"><stop offset="0%" stop-color="#440154"/><stop offset="11.11%" stop-color="#440154"/><stop offset="16.67%" stop-color="#460b5e"/><stop offset="21.04%" stop-color="#481a6c"/><stop offset="25.41%" stop-color="#482878"/><stop offset="29.78%" stop-color="#463480"/><stop offset="36.22%" stop-color="#414487"/><stop offset="42.67%" stop-color="#3b528b"/><stop offset="49.22%" stop-color="#355f8d"/><stop offset="55.78%" stop-color="#2f6c8e"/><stop offset="62.22%" stop-color="#2b748e"/><stop offset="68.67%" stop-color="#287d8e"/><stop offset="77.33%" stop-color="#287d8e"/><stop offset="80%" stop-color="#2a788e"/><stop offset="80%" stop-color="#481769"/><stop offset="83.33%" stop-color="#482475"/><stop offset="86.67%" stop-color="#471365"/><stop offset="90%" stop-color="#440154"/><stop offset="100%" stop-color="#440154"/></linearGradient>
<linearGradient id="g37" gradientUnits="userSpaceOnUse" x1="0" y1="210.08" x2="0" y2="255.98"><stop offset="0%" stop-color="#440154"/><stop offset="31.67%" stop-color="#440154"/><stop offset="45%" stop-color="#460b5e"/><stop offset="57%" stop-color="#481d6f"/><stop offset="73%" stop-color="#472a7a"/><stop offset="81.67%" stop-color="#482475"/><stop offset="90%" stop-color="#471365"/><stop offset="95%" stop-color="#440154"/><stop offset="100%" stop-color="#440154"/></linearGradient>
<linearGradient id="cb" x1="0" y1="0" x2="1" y2="0"><stop offset="0%" stop-color="#440154"/><stop offset="3.12%" stop-color="#470d60"/><stop offset="6.25%" stop-color="#48186a"/><stop offset="9.38%" stop-color="#482374"/><stop offset="12.5%" stop-color="#472d7b"/><stop offset="15.62%" stop-color="#453781"/><stop offset="18.75%" stop-color="#424086"/><stop offset="21.88%" stop-color="#3e4989"/><stop offset="25%" stop-color="#3b528b"/><stop offset="28.12%" stop-color="#375b8d"/><stop offset="31.25%" stop-color="#33638d"/><stop offset="34.38%" stop-color="#2f6b8e"/><stop offset="37.5%" stop-color="#2c728e"/><stop offset="40.62%" stop-color="#297a8e"/><stop offset="43.75%" stop-color="#26828e"/><stop offset="46.88%" stop-color="#23898e"/><stop offset="50%" stop-color="#21918c"/><stop offset="53.12%" stop-color="#1f988b"/><stop offset="56.25%" stop-color="#1fa088"/><stop offset="59.38%" stop-color="#22a785"/><stop offset="62.5%" stop-color="#28ae80"/><stop offset="65.62%" stop-color="#32b67a"/><stop offset="68.75%" stop-color="#3fbc73"/><stop offset="71.88%" stop-color="#4ec36b"/><stop offset="75%" stop-color="#5ec962"/><stop offset="78.12%" stop-color="#70cf57"/><stop offset="81.25%" stop-color="#84d44b"/><stop offset="84.38%" stop-color="#98d83e"/><stop offset="87.5%" stop-color="#addc30"/><stop offset="90.62%" stop-color="#c2df23"/><stop offset="93.75%" stop-color="#d8e219"/><stop offset="96.88%" stop-color="#ece51b"/><stop offset="100%" stop-color="#fde725"/></linearGradient>
</defs>
<rect x="0" y="0" width="600" height="400" fill="#000"/>
<rect x="0" y="23.9" width="600" height="351.9" fill="#fff"/>
<rect x="55.8" y="89.59" width="2" height="1.89" fill="#440154"/>
<rect x="55.8" y="93.37" width="2" height="41.58" fill="url(#g1)"/>
<rect x="83.15" y="85.81" width="2" height="58.59" fill="url(#g2)"/>
<rect x="110.5" y="49.9" width="2" height="98.28" fill="url(#g3)"/>
<rect x="137.85" y="44.23" width="2" height="66.15" fill="url(#g4)"/>
<rect x="165.2" y="51.79" width="2" height="54.81" fill="url(#g5)"/>
<rect x="29.45" y="89.59" width="27.35" height="1.89" fill="#440154"/>
<rect x="29.45" y="93.37" width="27.35" height="41.58" fill="url(#g1)"/>
<rect x="56.8" y="85.81" width="27.35" height="58.59" fill="url(#g2)"/>
<rect x="84.15" y="49.9" width="27.35" height="102" fill="url(#g3)"/>
<rect x="111.5" y="36.67" width="27.35" height="111.51" fill="url(#g4)"/>
<rect x="138.85" y="44.23" width="27.35" height="66.15" fill="url(#g5)"/>
<rect x="166.2" y="51.79" width="27.35" height="54.81" fill="url(#g6)"/>
<rect x="166.2" y="85.81" width="27.35" height="1.89" fill="#472a7a" opacity="0.55"/>
<rect x="166.2" y="91.48" width="27.35" height="1.89" fill="#471063" opacity="0.55"/>
<rect x="29.45" y="36.4" width="164.1" height="115.5" fill="none" stroke="#000" stroke-width="0.75"/>
<line x1="26.25" y1="134" x2="29.45" y2="134" stroke="#000" stroke-width="0.75"/>
<text x="24.25" y="136.95" text-anchor="end" font-family="Liberation Serif, DejaVu Serif, serif" font-size="8.2">−20</text>
<line x1="26.25" y1="115.1" x2="29.45" y2="115.1" stroke="#000" stroke-width="0.75"/>
<text x="24.25" y="118.05" text-anchor="end" font-family="Liberation Serif, DejaVu Serif, serif" font-size="8.2">−10</text>
<line x1="26.25" y1="96.2" x2="29.45" y2="96.2" stroke="#000" stroke-width="0.75"/>
<text x="24.25" y="99.15" text-anchor="end" font-family="Liberation Serif, DejaVu Serif, serif" font-size="8.2">0</text>
<line x1="26.25" y1="77.3" x2="29.45" y2="77.3" stroke="#000" stroke-width="0.75"/>
<text x="24.25" y="80.25" text-anchor="end" font-family="Liberation Serif, DejaVu Serif, serif" font-size="8.2">10</text>
<line x1="26.25" y1="58.4" x2="29.45" y2="58.4" stroke="#000" stroke-width="0.75"/>
<text x="24.25" y="61.35" text-anchor="end" font-family="Liberation Serif, DejaVu Serif, serif" font-size="8.2">20</text>
<line x1="26.25" y1="39.5" x2="29.45" y2="39.5" stroke="#000" stroke-width="0.75"/>
<text x="24.25" y="42.45" text-anchor="end" font-family="Liberation Serif, DejaVu Serif, serif" font-size="8.2">30</text>
<line x1="43.12" y1="151.9" x2="43.12" y2="155.1" stroke="#000" stroke-width="0.75"/>
<text x="43.12" y="163" text-anchor="middle" font-family="Liberation Serif, DejaVu Serif, serif" font-size="8.2">−6</text>
<line x1="70.47" y1="151.9" x2="70.47" y2="155.1" stroke="#000" stroke-width="0.75"/>
<text x="70.47" y="163" text-anchor="middle" font-family="Liberation Serif, DejaVu Serif, serif" font-size="8.2">−4</text>
<line x1="97.83" y1="151.9" x2="97.83" y2="155.1" stroke="#000" stroke-width="0.75"/>
<text x="97.83" y="163" text-anchor="middle" font-family="Liberation Serif, DejaVu Serif, serif" font-size="8.2">−2</text>
<line x1="125.17" y1="151.9" x2="125.17" y2="155.1" stroke="#000" stroke-width="0.75"/>
<text x="125.17" y="163" text-anchor="middle" font-family="Liberation Serif, DejaVu Serif, serif" font-size="8.2">0</text>
<line x1="152.52" y1="151.9" x2="152.52" y2="155.1" stroke="#000" stroke-width="0.75"/>
<text x="152.52" y="163" text-anchor="middle" font-family="Liberation Serif, DejaVu Serif, serif" font-size="8.2">2</text>
<line x1="179.87" y1="151.9" x2="179.87" y2="155.1" stroke="#000" stroke-width="0.75"/>
<text x="179.87" y="163" text-anchor="middle" font-family="Liberation Serif, DejaVu Serif, serif" font-size="8.2">4</text>
<text x="111.5" y="173.7" text-anchor="middle" font-family="Liberation Serif, DejaVu Serif, serif" font-size="8.4" font-style="italic">k</text>
<text transform="translate(4.05 94.15) rotate(-90)" text-anchor="middle" font-family="Liberation Serif, DejaVu Serif, serif" font-size="8" font-style="italic">n</text>
<text x="22.2" y="32.85" font-family="Liberation Serif, DejaVu Serif, serif" font-size="9.5" textLength="43" lengthAdjust="spacing" xml:space="preserve"><tspan font-style="italic">a</tspan>/<tspan font-style="italic">M</tspan> = 0.1,</text>
<text x="71" y="32.85" font-family="Liberation Serif, DejaVu Serif, serif" font-size="9.5" textLength="45" lengthAdjust="spacing" xml:space="preserve"><tspan font-style="italic">p</tspan>/<tspan font-style="italic">M</tspan> = 8.0,</text>
<text x="121" y="32.85" font-family="Liberation Serif, DejaVu Serif, serif" font-size="9.5" textLength="29.7" lengthAdjust="spacing" xml:space="preserve"><tspan font-style="italic">e</tspan> = 0.4,</text>
<text x="154.9" y="32.85" font-family="Liberation Serif, DejaVu Serif, serif" font-size="9.5" textLength="44.8" lengthAdjust="spacing" xml:space="preserve"><tspan font-style="italic">θ</tspan><tspan font-size="7.3" dy="1.9">inc</tspan><tspan dy="-1.9"> = 40.0°</tspan></text>
<rect x="247.76" y="87.96" width="2" height="49.7" fill="url(#g7)"/>
<rect x="268.27" y="84.41" width="2" height="62.12" fill="url(#g8)"/>
<rect x="288.79" y="79.09" width="2" height="71" fill="url(#g9)"/>
<rect x="309.3" y="48.91" width="2" height="97.62" fill="url(#g10)"/>
<rect x="329.81" y="36.49" width="2" height="90.53" fill="url(#g11)"/>
<rect x="350.32" y="40.04" width="2" height="67.45" fill="url(#g12)"/>
<rect x="370.84" y="47.14" width="2" height="56.44" fill="url(#g13)"/>
<rect x="228.25" y="87.96" width="20.51" height="49.7" fill="url(#g7)"/>
<rect x="248.76" y="84.41" width="20.51" height="62.12" fill="url(#g8)"/>
<rect x="269.27" y="79.09" width="20.51" height="71" fill="url(#g9)"/>
<rect x="289.79" y="48.91" width="20.51" height="102.95" fill="url(#g10)"/>
<rect x="310.3" y="36.49" width="20.51" height="110.05" fill="url(#g11)"/>
<rect x="330.81" y="36.49" width="20.51" height="90.53" fill="url(#g12)"/>
<rect x="351.32" y="40.04" width="20.51" height="67.45" fill="url(#g13)"/>
<rect x="371.84" y="47.14" width="20.51" height="56.44" fill="url(#g14)"/>
<rect x="228.25" y="105.71" width="20.51" height="1.77" fill="#440154" opacity="0.55"/>
<rect x="248.76" y="93.29" width="20.51" height="1.77" fill="#481d6f" opacity="0.55"/>
<rect x="269.27" y="100.39" width="20.51" height="1.77" fill="#25848e" opacity="0.55"/>
<rect x="330.81" y="95.95" width="20.51" height="1.77" fill="#2a788e" opacity="0.55"/>
<rect x="351.32" y="87.08" width="20.51" height="1.77" fill="#375a8c" opacity="0.55"/>
<rect x="371.84" y="93.29" width="20.51" height="1.77" fill="#482475" opacity="0.55"/>
<rect x="228.25" y="36.4" width="164.1" height="115.5" fill="none" stroke="#000" stroke-width="0.75"/>
<line x1="225.05" y1="149.2" x2="228.25" y2="149.2" stroke="#000" stroke-width="0.75"/>
<text x="223.05" y="152.15" text-anchor="end" font-family="Liberation Serif, DejaVu Serif, serif" font-size="8.2">−30</text>
<line x1="225.05" y1="131.45" x2="228.25" y2="131.45" stroke="#000" stroke-width="0.75"/>
<text x="223.05" y="134.4" text-anchor="end" font-family="Liberation Serif, DejaVu Serif, serif" font-size="8.2">−20</text>
<line x1="225.05" y1="113.7" x2="228.25" y2="113.7" stroke="#000" stroke-width="0.75"/>
<text x="223.05" y="116.65" text-anchor="end" font-family="Liberation Serif, DejaVu Serif, serif" font-size="8.2">−10</text>
<line x1="225.05" y1="95.95" x2="228.25" y2="95.95" stroke="#000" stroke-width="0.75"/>
<text x="223.05" y="98.9" text-anchor="end" font-family="Liberation Serif, DejaVu Serif, serif" font-size="8.2">0</text>
<line x1="225.05" y1="78.2" x2="228.25" y2="78.2" stroke="#000" stroke-width="0.75"/>
<text x="223.05" y="81.15" text-anchor="end" font-family="Liberation Serif, DejaVu Serif, serif" font-size="8.2">10</text>
<line x1="225.05" y1="60.45" x2="228.25" y2="60.45" stroke="#000" stroke-width="0.75"/>
<text x="223.05" y="63.4" text-anchor="end" font-family="Liberation Serif, DejaVu Serif, serif" font-size="8.2">20</text>
<line x1="225.05" y1="42.7" x2="228.25" y2="42.7" stroke="#000" stroke-width="0.75"/>
<text x="223.05" y="45.65" text-anchor="end" font-family="Liberation Serif, DejaVu Serif, serif" font-size="8.2">30</text>
<line x1="238.51" y1="151.9" x2="238.51" y2="155.1" stroke="#000" stroke-width="0.75"/>
<text x="238.51" y="163" text-anchor="middle" font-family="Liberation Serif, DejaVu Serif, serif" font-size="8.2">−8</text>
<line x1="259.02" y1="151.9" x2="259.02" y2="155.1" stroke="#000" stroke-width="0.75"/>
<text x="259.02" y="163" text-anchor="middle" font-family="Liberation Serif, DejaVu Serif, serif" font-size="8.2">−6</text>
<line x1="279.53" y1="151.9" x2="279.53" y2="155.1" stroke="#000" stroke-width="0.75"/>
<text x="279.53" y="163" text-anchor="middle" font-family="Liberation Serif, DejaVu Serif, serif" font-size="8.2">−4</text>
<line x1="300.04" y1="151.9" x2="300.04" y2="155.1" stroke="#000" stroke-width="0.75"/>
<text x="300.04" y="163" text-anchor="middle" font-family="Liberation Serif, DejaVu Serif, serif" font-size="8.2">−2</text>
<line x1="320.56" y1="151.9" x2="320.56" y2="155.1" stroke="#000" stroke-width="0.75"/>
<text x="320.56" y="163" text-anchor="middle" font-family="Liberation Serif, DejaVu Serif, serif" font-size="8.2">0</text>
<line x1="341.07" y1="151.9" x2="341.07" y2="155.1" stroke="#000" stroke-width="0.75"/>
<text x="341.07" y="163" text-anchor="middle" font-family="Liberation Serif, DejaVu Serif, serif" font-size="8.2">2</text>
<line x1="361.58" y1="151.9" x2="361.58" y2="155.1" stroke="#000" stroke-width="0.75"/>
<text x="361.58" y="163" text-anchor="middle" font-family="Liberation Serif, DejaVu Serif, serif" font-size="8.2">4</text>
<line x1="382.09" y1="151.9" x2="382.09" y2="155.1" stroke="#000" stroke-width="0.75"/>
<text x="382.09" y="163" text-anchor="middle" font-family="Liberation Serif, DejaVu Serif, serif" font-size="8.2">6</text>
<text x="310.3" y="173.7" text-anchor="middle" font-family="Liberation Serif, DejaVu Serif, serif" font-size="8.4" font-style="italic">k</text>
<text transform="translate(202.85 94.15) rotate(-90)" text-anchor="middle" font-family="Liberation Serif, DejaVu Serif, serif" font-size="8" font-style="italic">n</text>
<text x="221" y="32.85" font-family="Liberation Serif, DejaVu Serif, serif" font-size="9.5" textLength="43" lengthAdjust="spacing" xml:space="preserve"><tspan font-style="italic">a</tspan>/<tspan font-style="italic">M</tspan> = 0.5,</text>
<text x="269.8" y="32.85" font-family="Liberation Serif, DejaVu Serif, serif" font-size="9.5" textLength="45" lengthAdjust="spacing" xml:space="preserve"><tspan font-style="italic">p</tspan>/<tspan font-style="italic">M</tspan> = 8.0,</text>
<text x="319.8" y="32.85" font-family="Liberation Serif, DejaVu Serif, serif" font-size="9.5" textLength="29.7" lengthAdjust="spacing" xml:space="preserve"><tspan font-style="italic">e</tspan> = 0.4,</text>
<text x="353.7" y="32.85" font-family="Liberation Serif, DejaVu Serif, serif" font-size="9.5" textLength="44.8" lengthAdjust="spacing" xml:space="preserve"><tspan font-style="italic">θ</tspan><tspan font-size="7.3" dy="1.9">inc</tspan><tspan dy="-1.9"> = 40.0°</tspan></text>
<rect x="442.36" y="94.27" width="2" height="1.65" fill="#440154"/>
<rect x="442.36" y="97.58" width="2" height="34.69" fill="#440154"/>
<rect x="458.77" y="87.66" width="2" height="56.17" fill="url(#g15)"/>
<rect x="475.18" y="86.01" width="2" height="63.6" fill="url(#g16)"/>
<rect x="491.59" y="74.45" width="2" height="77.45" fill="url(#g17)"/>
<rect x="508" y="51.32" width="2" height="95.82" fill="url(#g18)"/>
<rect x="524.41" y="38.1" width="2" height="92.51" fill="url(#g19)"/>
<rect x="540.82" y="38.1" width="2" height="68.89" fill="url(#g20)"/>
<rect x="557.23" y="43.06" width="2" height="63.93" fill="url(#g21)"/>
<rect x="573.64" y="54.62" width="2" height="41.3" fill="url(#g22)"/>
<rect x="426.95" y="94.27" width="16.41" height="1.65" fill="#440154"/>
<rect x="426.95" y="97.58" width="16.41" height="34.69" fill="#440154"/>
<rect x="443.36" y="87.66" width="16.41" height="56.17" fill="url(#g15)"/>
<rect x="459.77" y="86.01" width="16.41" height="63.6" fill="url(#g16)"/>
<rect x="476.18" y="74.45" width="16.41" height="77.45" fill="url(#g17)"/>
<rect x="492.59" y="51.32" width="16.41" height="100.58" fill="url(#g18)"/>
<rect x="509" y="38.1" width="16.41" height="109.03" fill="url(#g19)"/>
<rect x="525.41" y="36.45" width="16.41" height="94.16" fill="url(#g20)"/>
<rect x="541.82" y="38.1" width="16.41" height="68.89" fill="url(#g21)"/>
<rect x="558.23" y="43.06" width="16.41" height="63.93" fill="url(#g22)"/>
<rect x="574.64" y="54.62" width="16.41" height="41.3" fill="url(#g23)"/>
<rect x="443.36" y="97.58" width="16.41" height="1.65" fill="#471365" opacity="0.55"/>
<rect x="443.36" y="104.18" width="16.41" height="1.65" fill="#472a7a" opacity="0.55"/>
<rect x="459.77" y="93.45" width="16.41" height="1.65" fill="#414487" opacity="0.55"/>
<rect x="476.18" y="99.23" width="16.41" height="1.65" fill="#25848e" opacity="0.55"/>
<rect x="525.41" y="81.06" width="16.41" height="1.65" fill="#21918c" opacity="0.55"/>
<rect x="541.82" y="85.19" width="16.41" height="1.65" fill="#31678e" opacity="0.55"/>
<rect x="558.23" y="86.84" width="16.41" height="1.65" fill="#414487" opacity="0.55"/>
<rect x="558.23" y="90.14" width="16.41" height="1.65" fill="#463480" opacity="0.55"/>
<rect x="574.64" y="82.71" width="16.41" height="1.65" fill="#440154" opacity="0.55"/>
<rect x="426.95" y="36.4" width="164.1" height="115.5" fill="none" stroke="#000" stroke-width="0.75"/>
<line x1="423.75" y1="146.31" x2="426.95" y2="146.31" stroke="#000" stroke-width="0.75"/>
<text x="421.75" y="149.26" text-anchor="end" font-family="Liberation Serif, DejaVu Serif, serif" font-size="8.2">−30</text>
<line x1="423.75" y1="129.79" x2="426.95" y2="129.79" stroke="#000" stroke-width="0.75"/>
<text x="421.75" y="132.74" text-anchor="end" font-family="Liberation Serif, DejaVu Serif, serif" font-size="8.2">−20</text>
<line x1="423.75" y1="113.27" x2="426.95" y2="113.27" stroke="#000" stroke-width="0.75"/>
<text x="421.75" y="116.22" text-anchor="end" font-family="Liberation Serif, DejaVu Serif, serif" font-size="8.2">−10</text>
<line x1="423.75" y1="96.75" x2="426.95" y2="96.75" stroke="#000" stroke-width="0.75"/>
<text x="421.75" y="99.7" text-anchor="end" font-family="Liberation Serif, DejaVu Serif, serif" font-size="8.2">0</text>
<line x1="423.75" y1="80.23" x2="426.95" y2="80.23" stroke="#000" stroke-width="0.75"/>
<text x="421.75" y="83.18" text-anchor="end" font-family="Liberation Serif, DejaVu Serif, serif" font-size="8.2">10</text>
<line x1="423.75" y1="63.71" x2="426.95" y2="63.71" stroke="#000" stroke-width="0.75"/>
<text x="421.75" y="66.66" text-anchor="end" font-family="Liberation Serif, DejaVu Serif, serif" font-size="8.2">20</text>
<line x1="423.75" y1="47.19" x2="426.95" y2="47.19" stroke="#000" stroke-width="0.75"/>
<text x="421.75" y="50.14" text-anchor="end" font-family="Liberation Serif, DejaVu Serif, serif" font-size="8.2">30</text>
<line x1="435.15" y1="151.9" x2="435.15" y2="155.1" stroke="#000" stroke-width="0.75"/>
<text x="435.15" y="163" text-anchor="middle" font-family="Liberation Serif, DejaVu Serif, serif" font-size="8.2">−10</text>
<line x1="451.56" y1="151.9" x2="451.56" y2="155.1" stroke="#000" stroke-width="0.75"/>
<text x="451.56" y="163" text-anchor="middle" font-family="Liberation Serif, DejaVu Serif, serif" font-size="8.2">−8</text>
<line x1="467.97" y1="151.9" x2="467.97" y2="155.1" stroke="#000" stroke-width="0.75"/>
<text x="467.97" y="163" text-anchor="middle" font-family="Liberation Serif, DejaVu Serif, serif" font-size="8.2">−6</text>
<line x1="484.38" y1="151.9" x2="484.38" y2="155.1" stroke="#000" stroke-width="0.75"/>
<text x="484.38" y="163" text-anchor="middle" font-family="Liberation Serif, DejaVu Serif, serif" font-size="8.2">−4</text>
<line x1="500.79" y1="151.9" x2="500.79" y2="155.1" stroke="#000" stroke-width="0.75"/>
<text x="500.79" y="163" text-anchor="middle" font-family="Liberation Serif, DejaVu Serif, serif" font-size="8.2">−2</text>
<line x1="517.2" y1="151.9" x2="517.2" y2="155.1" stroke="#000" stroke-width="0.75"/>
<text x="517.2" y="163" text-anchor="middle" font-family="Liberation Serif, DejaVu Serif, serif" font-size="8.2">0</text>
<line x1="533.62" y1="151.9" x2="533.62" y2="155.1" stroke="#000" stroke-width="0.75"/>
<text x="533.62" y="163" text-anchor="middle" font-family="Liberation Serif, DejaVu Serif, serif" font-size="8.2">2</text>
<line x1="550.02" y1="151.9" x2="550.02" y2="155.1" stroke="#000" stroke-width="0.75"/>
<text x="550.02" y="163" text-anchor="middle" font-family="Liberation Serif, DejaVu Serif, serif" font-size="8.2">4</text>
<line x1="566.43" y1="151.9" x2="566.43" y2="155.1" stroke="#000" stroke-width="0.75"/>
<text x="566.43" y="163" text-anchor="middle" font-family="Liberation Serif, DejaVu Serif, serif" font-size="8.2">6</text>
<line x1="582.85" y1="151.9" x2="582.85" y2="155.1" stroke="#000" stroke-width="0.75"/>
<text x="582.85" y="163" text-anchor="middle" font-family="Liberation Serif, DejaVu Serif, serif" font-size="8.2">8</text>
<text x="509" y="173.7" text-anchor="middle" font-family="Liberation Serif, DejaVu Serif, serif" font-size="8.4" font-style="italic">k</text>
<text transform="translate(401.55 94.15) rotate(-90)" text-anchor="middle" font-family="Liberation Serif, DejaVu Serif, serif" font-size="8" font-style="italic">n</text>
<text x="419.7" y="32.85" font-family="Liberation Serif, DejaVu Serif, serif" font-size="9.5" textLength="43" lengthAdjust="spacing" xml:space="preserve"><tspan font-style="italic">a</tspan>/<tspan font-style="italic">M</tspan> = 0.9,</text>
<text x="468.5" y="32.85" font-family="Liberation Serif, DejaVu Serif, serif" font-size="9.5" textLength="45" lengthAdjust="spacing" xml:space="preserve"><tspan font-style="italic">p</tspan>/<tspan font-style="italic">M</tspan> = 8.0,</text>
<text x="518.5" y="32.85" font-family="Liberation Serif, DejaVu Serif, serif" font-size="9.5" textLength="29.7" lengthAdjust="spacing" xml:space="preserve"><tspan font-style="italic">e</tspan> = 0.4,</text>
<text x="552.4" y="32.85" font-family="Liberation Serif, DejaVu Serif, serif" font-size="9.5" textLength="44.8" lengthAdjust="spacing" xml:space="preserve"><tspan font-style="italic">θ</tspan><tspan font-size="7.3" dy="1.9">inc</tspan><tspan dy="-1.9"> = 40.0°</tspan></text>
<rect x="69.47" y="246.05" width="2" height="42" fill="url(#g24)"/>
<rect x="110.5" y="213.05" width="2" height="82.5" fill="url(#g25)"/>
<rect x="151.52" y="210.05" width="2" height="49.5" fill="url(#g26)"/>
<rect x="29.45" y="246.05" width="41.02" height="42" fill="url(#g24)"/>
<rect x="70.47" y="213.05" width="41.02" height="93.65" fill="url(#g25)"/>
<rect x="111.5" y="191.4" width="41.02" height="104.15" fill="url(#g26)"/>
<rect x="152.52" y="210.05" width="41.02" height="49.5" fill="url(#g27)"/>
<rect x="29.45" y="251.3" width="41.02" height="1.5" fill="#471365" opacity="0.55"/>
<rect x="152.52" y="249.05" width="41.02" height="1.5" fill="#482475" opacity="0.55"/>
<rect x="152.52" y="254.3" width="41.02" height="1.5" fill="#460b5e" opacity="0.55"/>
<rect x="29.45" y="191.4" width="164.1" height="115.3" fill="none" stroke="#000" stroke-width="0.75"/>
<line x1="26.25" y1="281.3" x2="29.45" y2="281.3" stroke="#000" stroke-width="0.75"/>
<text x="24.25" y="284.25" text-anchor="end" font-family="Liberation Serif, DejaVu Serif, serif" font-size="8.2">−20</text>
<line x1="26.25" y1="251.3" x2="29.45" y2="251.3" stroke="#000" stroke-width="0.75"/>
<text x="24.25" y="254.25" text-anchor="end" font-family="Liberation Serif, DejaVu Serif, serif" font-size="8.2">0</text>
<line x1="26.25" y1="221.3" x2="29.45" y2="221.3" stroke="#000" stroke-width="0.75"/>
<text x="24.25" y="224.25" text-anchor="end" font-family="Liberation Serif, DejaVu Serif, serif" font-size="8.2">20</text>
<line x1="49.96" y1="306.7" x2="49.96" y2="309.9" stroke="#000" stroke-width="0.75"/>
<text x="49.96" y="317.8" text-anchor="middle" font-family="Liberation Serif, DejaVu Serif, serif" font-size="8.2">−4</text>
<line x1="90.99" y1="306.7" x2="90.99" y2="309.9" stroke="#000" stroke-width="0.75"/>
<text x="90.99" y="317.8" text-anchor="middle" font-family="Liberation Serif, DejaVu Serif, serif" font-size="8.2">−2</text>
<line x1="132.01" y1="306.7" x2="132.01" y2="309.9" stroke="#000" stroke-width="0.75"/>
<text x="132.01" y="317.8" text-anchor="middle" font-family="Liberation Serif, DejaVu Serif, serif" font-size="8.2">0</text>
<line x1="173.04" y1="306.7" x2="173.04" y2="309.9" stroke="#000" stroke-width="0.75"/>
<text x="173.04" y="317.8" text-anchor="middle" font-family="Liberation Serif, DejaVu Serif, serif" font-size="8.2">2</text>
<text x="111.5" y="328.5" text-anchor="middle" font-family="Liberation Serif, DejaVu Serif, serif" font-size="8.4" font-style="italic">k</text>
<text transform="translate(4.05 249.05) rotate(-90)" text-anchor="middle" font-family="Liberation Serif, DejaVu Serif, serif" font-size="8" font-style="italic">n</text>
<text x="20.5" y="187.85" font-family="Liberation Serif, DejaVu Serif, serif" font-size="9.5" textLength="43" lengthAdjust="spacing" xml:space="preserve"><tspan font-style="italic">a</tspan>/<tspan font-style="italic">M</tspan> = 0.1,</text>
<text x="69.4" y="187.85" font-family="Liberation Serif, DejaVu Serif, serif" font-size="9.5" textLength="50" lengthAdjust="spacing" xml:space="preserve"><tspan font-style="italic">p</tspan>/<tspan font-style="italic">M</tspan> = 25.0,</text>
<text x="123.9" y="187.85" font-family="Liberation Serif, DejaVu Serif, serif" font-size="9.5" textLength="29.3" lengthAdjust="spacing" xml:space="preserve"><tspan font-style="italic">e</tspan> = 0.4,</text>
<text x="157" y="187.85" font-family="Liberation Serif, DejaVu Serif, serif" font-size="9.5" textLength="45" lengthAdjust="spacing" xml:space="preserve"><tspan font-style="italic">θ</tspan><tspan font-size="7.3" dy="1.9">inc</tspan><tspan dy="-1.9"> = 40.0°</tspan></text>
<rect x="254.6" y="249.05" width="2" height="27.14" fill="#440154"/>
<rect x="281.95" y="240" width="2" height="55.8" fill="url(#g28)"/>
<rect x="309.3" y="214.36" width="2" height="81.43" fill="url(#g29)"/>
<rect x="336.65" y="202.3" width="2" height="63.34" fill="url(#g30)"/>
<rect x="364" y="223.41" width="2" height="31.67" fill="url(#g31)"/>
<rect x="228.25" y="249.05" width="27.35" height="27.14" fill="#440154"/>
<rect x="255.6" y="240" width="27.35" height="55.8" fill="url(#g28)"/>
<rect x="282.95" y="214.36" width="27.35" height="91.99" fill="url(#g29)"/>
<rect x="310.3" y="191.74" width="27.35" height="104.05" fill="url(#g30)"/>
<rect x="337.65" y="202.3" width="27.35" height="63.34" fill="url(#g31)"/>
<rect x="365" y="223.41" width="27.35" height="31.67" fill="#440154"/>
<rect x="255.6" y="249.8" width="27.35" height="1.51" fill="#3b528b" opacity="0.55"/>
<rect x="337.65" y="248.29" width="27.35" height="1.51" fill="#3b528b" opacity="0.55"/>
<rect x="228.25" y="191.4" width="164.1" height="115.3" fill="none" stroke="#000" stroke-width="0.75"/>
<line x1="225.05" y1="279.96" x2="228.25" y2="279.96" stroke="#000" stroke-width="0.75"/>
<text x="223.05" y="282.91" text-anchor="end" font-family="Liberation Serif, DejaVu Serif, serif" font-size="8.2">−20</text>
<line x1="225.05" y1="249.8" x2="228.25" y2="249.8" stroke="#000" stroke-width="0.75"/>
<text x="223.05" y="252.75" text-anchor="end" font-family="Liberation Serif, DejaVu Serif, serif" font-size="8.2">0</text>
<line x1="225.05" y1="219.64" x2="228.25" y2="219.64" stroke="#000" stroke-width="0.75"/>
<text x="223.05" y="222.59" text-anchor="end" font-family="Liberation Serif, DejaVu Serif, serif" font-size="8.2">20</text>
<line x1="241.93" y1="306.7" x2="241.93" y2="309.9" stroke="#000" stroke-width="0.75"/>
<text x="241.93" y="317.8" text-anchor="middle" font-family="Liberation Serif, DejaVu Serif, serif" font-size="8.2">−6</text>
<line x1="269.27" y1="306.7" x2="269.27" y2="309.9" stroke="#000" stroke-width="0.75"/>
<text x="269.27" y="317.8" text-anchor="middle" font-family="Liberation Serif, DejaVu Serif, serif" font-size="8.2">−4</text>
<line x1="296.62" y1="306.7" x2="296.62" y2="309.9" stroke="#000" stroke-width="0.75"/>
<text x="296.62" y="317.8" text-anchor="middle" font-family="Liberation Serif, DejaVu Serif, serif" font-size="8.2">−2</text>
<line x1="323.98" y1="306.7" x2="323.98" y2="309.9" stroke="#000" stroke-width="0.75"/>
<text x="323.98" y="317.8" text-anchor="middle" font-family="Liberation Serif, DejaVu Serif, serif" font-size="8.2">0</text>
<line x1="351.32" y1="306.7" x2="351.32" y2="309.9" stroke="#000" stroke-width="0.75"/>
<text x="351.32" y="317.8" text-anchor="middle" font-family="Liberation Serif, DejaVu Serif, serif" font-size="8.2">2</text>
<line x1="378.67" y1="306.7" x2="378.67" y2="309.9" stroke="#000" stroke-width="0.75"/>
<text x="378.67" y="317.8" text-anchor="middle" font-family="Liberation Serif, DejaVu Serif, serif" font-size="8.2">4</text>
<text x="310.3" y="328.5" text-anchor="middle" font-family="Liberation Serif, DejaVu Serif, serif" font-size="8.4" font-style="italic">k</text>
<text transform="translate(202.85 249.05) rotate(-90)" text-anchor="middle" font-family="Liberation Serif, DejaVu Serif, serif" font-size="8" font-style="italic">n</text>
<text x="219.3" y="187.85" font-family="Liberation Serif, DejaVu Serif, serif" font-size="9.5" textLength="43" lengthAdjust="spacing" xml:space="preserve"><tspan font-style="italic">a</tspan>/<tspan font-style="italic">M</tspan> = 0.5,</text>
<text x="268.2" y="187.85" font-family="Liberation Serif, DejaVu Serif, serif" font-size="9.5" textLength="50" lengthAdjust="spacing" xml:space="preserve"><tspan font-style="italic">p</tspan>/<tspan font-style="italic">M</tspan> = 25.0,</text>
<text x="322.7" y="187.85" font-family="Liberation Serif, DejaVu Serif, serif" font-size="9.5" textLength="29.3" lengthAdjust="spacing" xml:space="preserve"><tspan font-style="italic">e</tspan> = 0.4,</text>
<text x="355.8" y="187.85" font-family="Liberation Serif, DejaVu Serif, serif" font-size="9.5" textLength="45" lengthAdjust="spacing" xml:space="preserve"><tspan font-style="italic">θ</tspan><tspan font-size="7.3" dy="1.9">inc</tspan><tspan dy="-1.9"> = 40.0°</tspan></text>
<rect x="453.3" y="243.75" width="2" height="43.61" fill="url(#g32)"/>
<rect x="480.65" y="239.16" width="2" height="61.2" fill="url(#g33)"/>
<rect x="508" y="210.08" width="2" height="87.21" fill="url(#g34)"/>
<rect x="535.35" y="197.84" width="2" height="68.85" fill="url(#g35)"/>
<rect x="562.7" y="210.08" width="2" height="45.9" fill="url(#g36)"/>
<rect x="426.95" y="243.75" width="27.35" height="43.61" fill="url(#g32)"/>
<rect x="454.3" y="239.16" width="27.35" height="61.2" fill="url(#g33)"/>
<rect x="481.65" y="210.08" width="27.35" height="96.39" fill="url(#g34)"/>
<rect x="509" y="191.72" width="27.35" height="105.57" fill="url(#g35)"/>
<rect x="536.35" y="197.84" width="27.35" height="68.85" fill="url(#g36)"/>
<rect x="563.7" y="210.08" width="27.35" height="45.9" fill="url(#g37)"/>
<rect x="454.3" y="249.1" width="27.35" height="1.53" fill="#355f8d" opacity="0.55"/>
<rect x="563.7" y="244.51" width="27.35" height="1.53" fill="#46085c" opacity="0.55"/>
<rect x="426.95" y="191.4" width="164.1" height="115.3" fill="none" stroke="#000" stroke-width="0.75"/>
<line x1="423.75" y1="279.7" x2="426.95" y2="279.7" stroke="#000" stroke-width="0.75"/>
<text x="421.75" y="282.65" text-anchor="end" font-family="Liberation Serif, DejaVu Serif, serif" font-size="8.2">−20</text>
<line x1="423.75" y1="249.1" x2="426.95" y2="249.1" stroke="#000" stroke-width="0.75"/>
<text x="421.75" y="252.05" text-anchor="end" font-family="Liberation Serif, DejaVu Serif, serif" font-size="8.2">0</text>
<line x1="423.75" y1="218.5" x2="426.95" y2="218.5" stroke="#000" stroke-width="0.75"/>
<text x="421.75" y="221.45" text-anchor="end" font-family="Liberation Serif, DejaVu Serif, serif" font-size="8.2">20</text>
<line x1="440.62" y1="306.7" x2="440.62" y2="309.9" stroke="#000" stroke-width="0.75"/>
<text x="440.62" y="317.8" text-anchor="middle" font-family="Liberation Serif, DejaVu Serif, serif" font-size="8.2">−6</text>
<line x1="467.97" y1="306.7" x2="467.97" y2="309.9" stroke="#000" stroke-width="0.75"/>
<text x="467.97" y="317.8" text-anchor="middle" font-family="Liberation Serif, DejaVu Serif, serif" font-size="8.2">−4</text>
<line x1="495.32" y1="306.7" x2="495.32" y2="309.9" stroke="#000" stroke-width="0.75"/>
<text x="495.32" y="317.8" text-anchor="middle" font-family="Liberation Serif, DejaVu Serif, serif" font-size="8.2">−2</text>
<line x1="522.67" y1="306.7" x2="522.67" y2="309.9" stroke="#000" stroke-width="0.75"/>
<text x="522.67" y="317.8" text-anchor="middle" font-family="Liberation Serif, DejaVu Serif, serif" font-size="8.2">0</text>
<line x1="550.02" y1="306.7" x2="550.02" y2="309.9" stroke="#000" stroke-width="0.75"/>
<text x="550.02" y="317.8" text-anchor="middle" font-family="Liberation Serif, DejaVu Serif, serif" font-size="8.2">2</text>
<line x1="577.38" y1="306.7" x2="577.38" y2="309.9" stroke="#000" stroke-width="0.75"/>
<text x="577.38" y="317.8" text-anchor="middle" font-family="Liberation Serif, DejaVu Serif, serif" font-size="8.2">4</text>
<text x="509" y="328.5" text-anchor="middle" font-family="Liberation Serif, DejaVu Serif, serif" font-size="8.4" font-style="italic">k</text>
<text transform="translate(401.55 249.05) rotate(-90)" text-anchor="middle" font-family="Liberation Serif, DejaVu Serif, serif" font-size="8" font-style="italic">n</text>
<text x="418" y="187.85" font-family="Liberation Serif, DejaVu Serif, serif" font-size="9.5" textLength="43" lengthAdjust="spacing" xml:space="preserve"><tspan font-style="italic">a</tspan>/<tspan font-style="italic">M</tspan> = 0.9,</text>
<text x="466.9" y="187.85" font-family="Liberation Serif, DejaVu Serif, serif" font-size="9.5" textLength="50" lengthAdjust="spacing" xml:space="preserve"><tspan font-style="italic">p</tspan>/<tspan font-style="italic">M</tspan> = 25.0,</text>
<text x="521.4" y="187.85" font-family="Liberation Serif, DejaVu Serif, serif" font-size="9.5" textLength="29.3" lengthAdjust="spacing" xml:space="preserve"><tspan font-style="italic">e</tspan> = 0.4,</text>
<text x="554.5" y="187.85" font-family="Liberation Serif, DejaVu Serif, serif" font-size="9.5" textLength="45" lengthAdjust="spacing" xml:space="preserve"><tspan font-style="italic">θ</tspan><tspan font-size="7.3" dy="1.9">inc</tspan><tspan dy="-1.9"> = 40.0°</tspan></text>
<rect x="113.25" y="334.25" width="393.75" height="10" fill="url(#cb)" stroke="#000" stroke-width="0.75"/>
<line x1="113.25" y1="344.25" x2="113.25" y2="347.25" stroke="#000" stroke-width="0.75"/>
<text x="113.25" y="356.05" text-anchor="middle" font-family="Liberation Serif, DejaVu Serif, serif" font-size="9.8">10<tspan font-size="7.8" dy="-3.4">−27</tspan></text>
<line x1="169.5" y1="344.25" x2="169.5" y2="347.25" stroke="#000" stroke-width="0.75"/>
<text x="169.5" y="356.05" text-anchor="middle" font-family="Liberation Serif, DejaVu Serif, serif" font-size="9.8">10<tspan font-size="7.8" dy="-3.4">−24</tspan></text>
<line x1="225.75" y1="344.25" x2="225.75" y2="347.25" stroke="#000" stroke-width="0.75"/>
<text x="225.75" y="356.05" text-anchor="middle" font-family="Liberation Serif, DejaVu Serif, serif" font-size="9.8">10<tspan font-size="7.8" dy="-3.4">−21</tspan></text>
<line x1="282" y1="344.25" x2="282" y2="347.25" stroke="#000" stroke-width="0.75"/>
<text x="282" y="356.05" text-anchor="middle" font-family="Liberation Serif, DejaVu Serif, serif" font-size="9.8">10<tspan font-size="7.8" dy="-3.4">−18</tspan></text>
<line x1="338.25" y1="344.25" x2="338.25" y2="347.25" stroke="#000" stroke-width="0.75"/>
<text x="338.25" y="356.05" text-anchor="middle" font-family="Liberation Serif, DejaVu Serif, serif" font-size="9.8">10<tspan font-size="7.8" dy="-3.4">−15</tspan></text>
<line x1="394.5" y1="344.25" x2="394.5" y2="347.25" stroke="#000" stroke-width="0.75"/>
<text x="394.5" y="356.05" text-anchor="middle" font-family="Liberation Serif, DejaVu Serif, serif" font-size="9.8">10<tspan font-size="7.8" dy="-3.4">−12</tspan></text>
<line x1="450.75" y1="344.25" x2="450.75" y2="347.25" stroke="#000" stroke-width="0.75"/>
<text x="450.75" y="356.05" text-anchor="middle" font-family="Liberation Serif, DejaVu Serif, serif" font-size="9.8">10<tspan font-size="7.8" dy="-3.4">−9</tspan></text>
<line x1="507" y1="344.25" x2="507" y2="347.25" stroke="#000" stroke-width="0.75"/>
<text x="507" y="356.05" text-anchor="middle" font-family="Liberation Serif, DejaVu Serif, serif" font-size="9.8">10<tspan font-size="7.8" dy="-3.4">−6</tspan></text>
<text x="297.8" y="370.2" font-family="Liberation Serif, DejaVu Serif, serif" font-size="10.4" font-style="italic">E<tspan font-size="8" dy="3.7" dx="-0.3">ℓmnk</tspan></text>
<text x="300.6" y="362.6" font-family="Liberation Serif, DejaVu Serif, serif" font-size="9">.</text>
<text x="305.4" y="366.6" font-family="Liberation Serif, DejaVu Serif, serif" font-size="8">−</text>
</svg>
</body></html>
